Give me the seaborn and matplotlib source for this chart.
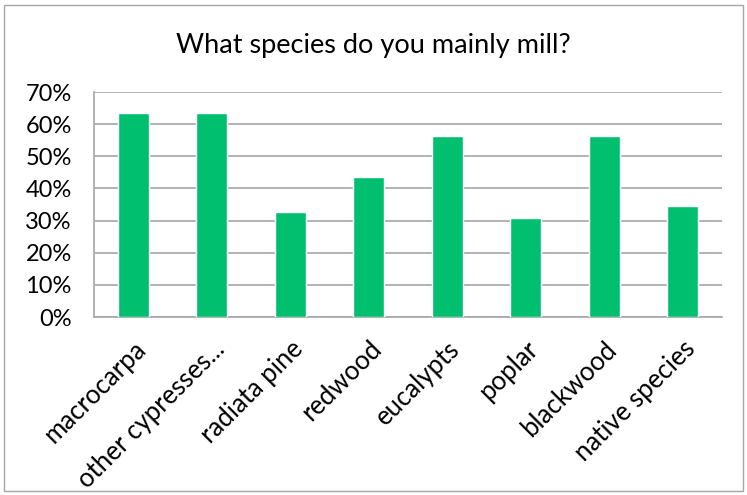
import numpy as np
import pandas as pd
import matplotlib
matplotlib.use('Agg')
import matplotlib.pyplot as plt
import seaborn as sns
from matplotlib.ticker import PercentFormatter, FixedLocator
from matplotlib.patches import Rectangle

# data
species = ['macrocarpa', 'other cypresses...', 'radiata pine', 'redwood',
           'eucalypts', 'poplar', 'blackwood', 'native species']
share = [63.6, 63.6, 32.7, 43.6, 56.4, 30.9, 56.4, 34.5]

sns.set_theme(style='white')
plt.rcParams['font.family'] = ['Lato', 'DejaVu Sans']

df = pd.DataFrame({'species': species, 'share': share})

fig = plt.figure(figsize=(7.47, 4.95), dpi=100)
ax = fig.add_axes([94 / 747, 1 - 317 / 495, (722 - 94) / 747, (317 - 92) / 495])

sns.barplot(data=df, x='species', y='share', color='#00BF6F', width=0.4,
            saturation=1, ax=ax, zorder=3)

ax.set_ylim(0, 70)
ax.set_xlim(-0.5, len(species) - 0.5)
ax.set_yticks(np.arange(0, 71, 10))
ax.yaxis.set_major_formatter(PercentFormatter(decimals=0))
ax.grid(axis='y', color='#A6A6A6', linewidth=1.2, zorder=0)

# category labels, ticks between categories
ax.set_xticks(range(len(species)))
ax.set_xticklabels(species, rotation=45, ha='right', rotation_mode='anchor',
                   fontsize=18.5, color='black')
ax.tick_params(axis='x', which='major', length=0, pad=14)
ax.xaxis.set_minor_locator(FixedLocator(np.arange(-0.5, len(species), 1)))
ax.tick_params(axis='x', which='minor', length=6, color='#A6A6A6', width=1, direction='out')
ax.tick_params(axis='y', length=4, color='#A6A6A6', width=1, direction='out',
               labelsize=17, labelcolor='black', pad=12)

for side in ['top', 'right']:
    ax.spines[side].set_visible(False)
for side in ['left', 'bottom']:
    ax.spines[side].set_color('#A6A6A6')
    ax.spines[side].set_linewidth(1.2)

ax.set_xlabel('')
ax.set_ylabel('')

fig.text(0.5, 1 - 45 / 495, 'What species do you mainly mill?', ha='center', va='center',
         fontsize=19.5, color='black')

# outer chart border
fig.patches.append(Rectangle((4 / 747, 4 / 495), 739 / 747, 486 / 495, transform=fig.transFigure,
                             fill=False, edgecolor='#A6A6A6', linewidth=1))

fig.savefig('out.png', dpi=100, facecolor='white')
